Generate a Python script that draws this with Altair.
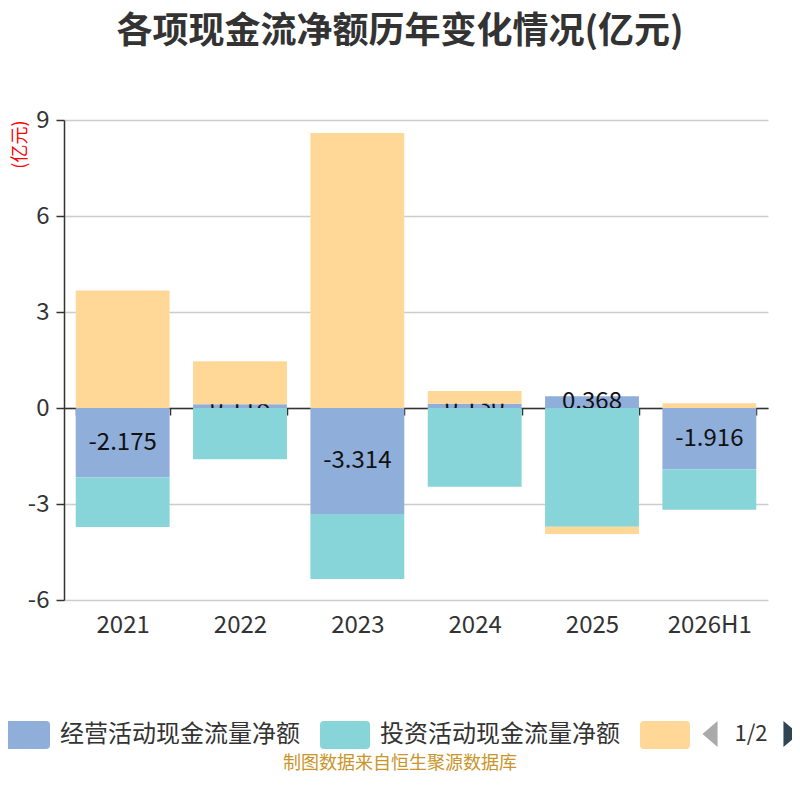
import altair as alt
import pandas as pd

years = ["2021", "2022", "2023", "2024", "2025", "2026H1"]
series = ["经营活动现金流量净额", "投资活动现金流量净额", "筹资活动现金流量净额"]
operating = [-2.175, 0.118, -3.314, 0.130, 0.368, -1.916]
investing = [-1.54, -1.60, -2.03, -2.46, -3.71, -1.26]
financing = [3.67, 1.34, 8.59, 0.40, -0.23, 0.15]
colors = ["#8FAEDA", "#87D5D9", "#FFD898"]
y_ticks = [-6, -3, 0, 3, 6, 9]

rows = []
for i, yr in enumerate(years):
    for k, vals in enumerate([operating, investing, financing]):
        rows.append({"year": yr, "series": series[k], "order": k, "value": vals[i]})
df = pd.DataFrame(rows)

FONT = "Noto Sans CJK SC"
swatch = ("M-0.84,-0.56 H0.84 Q1,-0.56 1,-0.4 V0.4 Q1,0.56 0.84,0.56 "
          "H-0.84 Q-1,0.56 -1,0.4 V-0.4 Q-1,-0.56 -0.84,-0.56 Z")

x_enc = alt.X(
    "year:N", sort=years, title=None,
    scale=alt.Scale(paddingInner=0.2, paddingOuter=0.1),
    axis=alt.Axis(offset=-192, tickBand="extent", tickSize=7, tickColor="#333",
                  tickWidth=1.5, domainColor="#333", domainWidth=1.5,
                  labelFontSize=24, labelColor="#333", labelFont=FONT,
                  labelPadding=198, labelAngle=0, grid=False),
)
y_scale = alt.Scale(domain=[-6, 9], nice=False)
y_axis = alt.Axis(values=y_ticks, title="(亿元)", titleColor="red", titleFontSize=18,
                  titleFont=FONT, titleFontWeight="normal", titleAnchor="end",
                  titleX=-35, domainColor="#333", domainWidth=1.5, tickColor="#333",
                  tickWidth=1.5, tickSize=8, labelFontSize=24, labelColor="#333",
                  labelFont=FONT, labelPadding=7, gridColor="#cccccc", gridWidth=1.5,
                  labelExpr="'' + datum.value")
color_enc = alt.Color(
    "series:N", scale=alt.Scale(domain=series, range=colors),
    legend=alt.Legend(title=None, orient="none", direction="horizontal",
                      legendX=-64, legendY=590, symbolType=swatch, symbolSize=2500,
                      symbolStrokeWidth=0, symbolOpacity=1, labelFontSize=24,
                      labelFont=FONT, labelColor="#333", labelOffset=10,
                      columnPadding=20, labelLimit=400,
                      labelExpr="datum.label == '筹资活动现金流量净额' ? '' : datum.label"),
)

base = alt.Chart(df).transform_stack(
    stack="value", groupby=["year"], as_=["v0", "v1"],
    sort=[alt.SortField("order", order="ascending")],
)

bars_op = base.transform_filter("datum.order == 0").mark_bar().encode(
    x=x_enc,
    y=alt.Y("v0:Q", scale=y_scale, axis=y_axis),
    y2="v1:Q",
    color=color_enc,
)

labels = base.transform_filter("datum.order == 0").transform_calculate(
    mid="(datum.v0 + datum.v1) / 2",
    lbl="replace(format(datum.value, '.3f'), '\u2212', '-')",
).mark_text(fontSize=24, font=FONT, color="#111", baseline="middle").encode(
    x=x_enc,
    y=alt.Y("mid:Q", scale=y_scale),
    text="lbl:N",
)

bars_rest = base.transform_filter("datum.order > 0").mark_bar().encode(
    x=x_enc,
    y=alt.Y("v0:Q", scale=y_scale),
    y2="v1:Q",
    color=color_enc,
)

one = pd.DataFrame({"a": [0]})
page_txt = alt.Chart(one).mark_text(fontSize=22, font=FONT, color="#333",
                                    baseline="middle", align="center").encode(
    x=alt.value(687), y=alt.value(614), text=alt.value("1/2"))
arrow_l = alt.Chart(one).mark_point(shape="M0.58,-1 L-0.58,0 L0.58,1 Z", filled=True,
                                    size=676, color="#aaaaaa", opacity=1).encode(
    x=alt.value(646), y=alt.value(614))
arrow_r = alt.Chart(one).mark_point(shape="M-0.58,-1 L0.58,0 L-0.58,1 Z", filled=True,
                                    size=676, color="#2f4554", opacity=1).encode(
    x=alt.value(727), y=alt.value(614))
footer = alt.Chart(one).mark_text(fontSize=18, font=FONT, color="#C9952B",
                                  baseline="middle", align="center").encode(
    x=alt.value(336), y=alt.value(644), text=alt.value("制图数据来自恒生聚源数据库"))

chart = alt.layer(bars_op, labels, bars_rest, page_txt, arrow_l, arrow_r, footer).properties(
    width=704, height=480,
    padding={"left": 56, "top": 112, "right": 24, "bottom": 192},
    autosize=alt.AutoSizeParams(type="none"),
    title=alt.TitleParams("各项现金流净额历年变化情况(亿元)", fontSize=36, font=FONT,
                          fontWeight="bold", color="#333", anchor="middle",
                          dx=-16, offset=57),
).configure_view(stroke=None)

chart.save("out.html", embed_options={"renderer": "svg", "actions": False})
